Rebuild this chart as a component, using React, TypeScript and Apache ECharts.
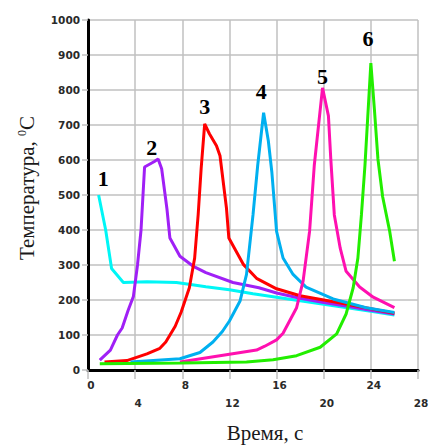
import React, { useEffect, useRef } from "react";
import * as echarts from "echarts";

const xTicks = [0, 4, 8, 12, 16, 20, 24, 28];
const yTicks = [0, 100, 200, 300, 400, 500, 600, 700, 800, 900, 1000];

const curve1: [number, number][] = [
  [0.9, 500], [1.5, 400], [2.0, 290], [3.0, 250], [5.0, 252], [7.5, 250], [9, 243], [10, 238],
  [12, 229], [14, 218], [16, 208], [18, 198], [20, 188], [22, 178], [24, 168], [26, 157],
];
const curve2: [number, number][] = [
  [1.0, 28], [1.9, 57], [2.5, 100], [2.9, 120], [3.4, 170], [3.85, 210], [4.2, 300], [4.5, 400],
  [4.8, 580], [5.6, 595], [5.95, 603], [6.25, 575], [6.7, 460], [6.95, 377], [7.8, 325],
  [8.9, 297], [10.0, 278], [12.3, 250], [14.5, 235], [16, 220], [18, 205], [20, 193],
  [22, 182], [24, 171], [26, 160],
];
const curve3: [number, number][] = [
  [1.4, 23], [3.3, 27], [5.0, 46], [6.1, 62], [6.6, 80], [7.4, 125], [7.9, 165], [8.6, 235],
  [9.05, 320], [9.35, 445], [9.6, 575], [9.9, 703], [10.3, 675], [10.9, 641], [11.2, 612],
  [11.75, 462], [11.95, 377], [13.2, 301], [14.3, 262], [16, 232], [18, 212], [20, 200],
  [22, 188], [24, 175], [26, 162],
];
const curve4: [number, number][] = [
  [3.6, 23], [7.8, 32], [9.5, 50], [10.6, 80], [11.4, 110], [12.0, 140], [12.9, 197],
  [13.45, 273], [14.0, 443], [14.4, 585], [14.9, 735], [15.3, 655], [15.6, 565], [16.0, 396],
  [16.55, 320], [17.4, 273], [18.5, 237], [20.8, 203], [23.6, 178], [26, 164],
];
const curve5: [number, number][] = [
  [7.8, 23], [12.0, 45], [14.3, 57], [15.0, 68], [16.0, 86], [16.55, 105], [17.7, 178],
  [18.25, 254], [18.8, 396], [19.2, 585], [19.9, 806], [20.4, 726], [20.6, 603], [20.9, 443],
  [21.4, 348], [21.9, 282], [23.05, 237], [24.2, 208], [26, 178],
];
const curve6: [number, number][] = [
  [1.0, 18], [8, 20], [13.45, 23], [15.7, 29], [17.7, 41], [19.7, 65], [21.1, 103],
  [21.9, 160], [22.5, 235], [22.9, 320], [23.2, 443], [23.5, 585], [24.0, 877], [24.3, 745],
  [24.6, 603], [25.0, 495], [25.6, 396], [26.0, 311],
];

const seriesNames = ["1", "2", "3", "4", "5", "6"];
const seriesColors = ["#00f6f6", "#a020f6", "#ff0000", "#00b0f0", "#ff10b0", "#22ee00"];
const seriesData = [curve1, curve2, curve3, curve4, curve5, curve6];

const labelX = [1.3, 5.4, 9.9, 14.7, 19.9, 23.75];
const labelY = [547, 636, 754, 797, 839, 948];

export default function App() {
  const ref = useRef<HTMLDivElement>(null);
  useEffect(() => {
    if (!ref.current) return;
    const chart = echarts.init(ref.current, null, { renderer: "svg" });
    const tickFont = {
      fontFamily: "DejaVu Sans",
      fontWeight: "bold" as const,
      fontSize: 10.5,
      color: "#2a2a2a",
    };
    chart.setOption({
      animation: false,
      backgroundColor: "#ffffff",
      grid: { left: 88, top: 20, right: 14, bottom: 75 },
      xAxis: {
        type: "value",
        min: 0,
        max: 28,
        interval: 4,
        name: "Время, с",
        nameLocation: "middle",
        nameGap: 52,
        nameTextStyle: {
          fontFamily: "Liberation Serif",
          fontSize: 21,
          color: "#1a1a1a",
          padding: [0, 0, 0, 24],
        },
        axisLine: { show: true, onZero: false, lineStyle: { color: "#000", width: 3 } },
        axisTick: { show: true, length: 9, lineStyle: { color: "#c0c0c0", width: 1.5 } },
        splitLine: { show: true, lineStyle: { color: "#c0c0c0", width: 1.5 } },
        axisLabel: {
          ...tickFont,
          margin: 6,
          lineHeight: 18,
          padding: [0, 0, 0, 6],
          formatter: (v: number) => {
            const i = xTicks.indexOf(v);
            return i % 2 === 1 ? "\n" + v : String(v);
          },
        },
      },
      yAxis: {
        type: "value",
        min: 0,
        max: 1000,
        interval: 100,
        name: "Температура, {sup|0}C",
        nameLocation: "middle",
        nameGap: 50,
        nameTextStyle: {
          fontFamily: "Liberation Serif",
          fontSize: 21,
          color: "#1a1a1a",
          padding: [0, 0, 0, 14],
          rich: {
            sup: {
              fontFamily: "Liberation Serif",
              fontSize: 12,
              color: "#1a1a1a",
              verticalAlign: "top",
              padding: [0, 0, 10, 0],
            },
          },
        },
        axisLine: { show: true, lineStyle: { color: "#000", width: 3 } },
        axisTick: { show: true, length: 6, lineStyle: { color: "#c0c0c0", width: 1.5 } },
        splitLine: { show: true, lineStyle: { color: "#c0c0c0", width: 1.5 } },
        axisLabel: {
          ...tickFont,
          margin: 8,
          formatter: (v: number) => String(yTicks[yTicks.indexOf(v)] ?? v),
        },
      },
      series: [
        ...seriesData.map((d, i) => ({
          type: "line",
          name: seriesNames[i],
          data: d,
          showSymbol: false,
          symbol: "none",
          lineStyle: { color: seriesColors[i], width: 3 },
          z: 3 + i,
        })),
        {
          type: "scatter",
          data: labelX.map((x, i) => [x, labelY[i], seriesNames[i]]),
          symbolSize: 0,
          itemStyle: { opacity: 1 },
          z: 20,
          label: {
            show: true,
            position: "inside",
            formatter: (p: any) => p.data[2],
            fontFamily: "Liberation Serif",
            fontWeight: "bold",
            fontSize: 22,
            color: "#000",
            opacity: 1,
          },
        },
      ],
    });
    return () => chart.dispose();
  }, []);
  return <div ref={ref} style={{ width: 432, height: 448, position: "absolute", left: 0, top: 0 }} />;
}
